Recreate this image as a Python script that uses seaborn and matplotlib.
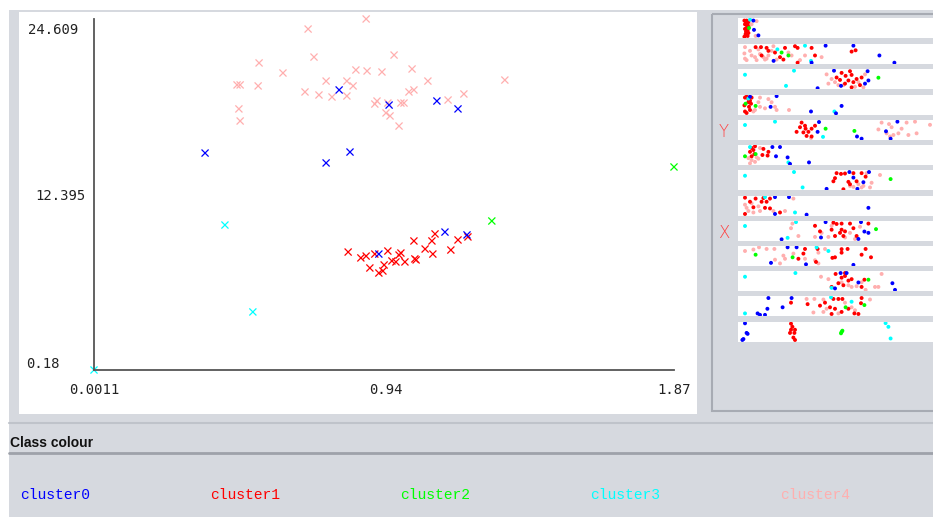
import matplotlib
matplotlib.use('Agg')
import matplotlib.pyplot as plt
from matplotlib.patches import Rectangle
import numpy as np
import pandas as pd
import seaborn as sns

# ---- main scatter data (X vs Y, coloured by cluster) ----
c0_x = [0.791, 0.952, 1.106, 1.174, 0.359, 0.826, 0.749, 0.919, 1.132, 1.203]
c0_y = [19.67, 18.62, 18.90, 18.35, 15.28, 15.35, 14.59, 8.25, 9.78, 9.58]

c1_x = [0.820, 0.861, 0.878, 0.890, 0.906, 0.919, 0.932, 0.936, 0.948, 0.961, 0.974, 0.984,
        0.990, 1.003, 1.032, 1.035, 1.039, 1.068, 1.090, 1.093, 1.100, 1.151, 1.174, 1.206]
c1_y = [8.39, 7.98, 8.11, 7.28, 8.25, 6.93, 7.07, 7.49, 8.46, 7.77, 7.70, 8.18,
        8.32, 7.70, 9.16, 7.91, 7.84, 8.60, 9.16, 8.25, 9.65, 8.53, 9.23, 9.44]

c2_x = [1.87, 1.283]
c2_y = [14.31, 10.55]

c3_x = [0.423, 0.513, 0.0011]
c3_y = [10.27, 4.22, 0.18]

c4_x = [0.691, 0.878, 0.710, 0.533, 0.610, 0.749, 0.816, 0.462, 0.472, 0.530, 0.681, 0.726,
        0.768, 0.816, 0.468, 0.472, 0.968, 0.845, 0.881, 0.929, 1.026, 0.836, 1.077, 1.325,
        1.016, 1.032, 1.142, 1.193, 0.906, 0.913, 0.948, 0.990, 1.000, 0.942, 0.955, 0.984]
c4_y = [23.91, 24.61, 21.96, 21.55, 20.85, 20.29, 20.29, 20.02, 20.02, 19.95, 19.53, 19.32,
        19.18, 19.25, 18.35, 17.51, 22.10, 21.06, 20.99, 20.92, 21.13, 19.95, 20.29, 20.36,
        19.53, 19.67, 18.97, 19.39, 18.69, 18.90, 18.76, 18.76, 18.76, 18.07, 17.86, 17.16]

x_ticks = [0.0011, 0.94, 1.87]
x_tick_labels = ['0.0011', '0.94', '1.87']
y_ticks = [0.18, 12.395, 24.609]
y_tick_labels = ['0.18', '12.395', '24.609']

clusters = ['cluster0', 'cluster1', 'cluster2', 'cluster3', 'cluster4']
colours = ['#0000ff', '#ff0000', '#00ff00', '#00ffff', '#ffafaf']

# ---- attribute strips on the right: (cluster, position, jitter) ----
strip_01 = [(4, 10.8, 13), (4, 10.3, 93), (4, 8.3, 30),
            (1, 4.7, 10), (1, 5.8, 10), (1, 6.7, 17), (1, 5.5, 20), (1, 5, 30), (1, 6.3, 30),
            (1, 6.7, 43), (1, 6, 45), (1, 5, 55), (1, 6.3, 63), (1, 5.5, 70), (1, 6.7, 77),
            (1, 5.3, 83), (1, 6, 87), (1, 6.3, 93), (1, 4.7, 97),
            (2, 7, 50), (3, 7.5, 5), (0, 9.2, 10), (0, 9.5, 60), (0, 11.7, 90)]
strip_02 = [(4, 5, 13), (4, 4.7, 47), (4, 5, 75), (4, 7.5, 33), (4, 8.3, 58), (4, 10, 67),
            (4, 11.7, 25), (4, 12.5, 50), (4, 14.2, 67), (4, 15.8, 75), (4, 18.3, 33), (4, 20.8, 80),
            (4, 26.7, 42), (4, 28.3, 58), (4, 32.5, 83), (4, 35, 58), (4, 43.3, 67), (4, 5.8, 83),
            (4, 10.8, 83), (4, 16.7, 58), (4, 19.2, 8), (4, 15, 80),
            (1, 10.3, 13), (1, 13, 13), (1, 15.8, 17), (1, 16.7, 33), (1, 20, 42), (1, 22.5, 67),
            (1, 25, 17), (1, 24.2, 80), (1, 30, 8), (1, 31.3, 17), (1, 38.3, 17), (1, 40, 58),
            (1, 58.3, 37), (1, 60.3, 30), (1, 13.3, 58), (1, 31.3, 97),
            (2, 23.3, 42), (2, 26.7, 58), (3, 21.2, 25), (3, 35, 5), (3, 38, 87),
            (0, 19.3, 87), (0, 45.3, 5), (0, 59.2, 5), (0, 72.2, 58), (0, 79.7, 97), (0, 38.3, 97)]
strip_03 = [(4, 45.8, 25), (4, 48.3, 50), (4, 50, 67), (4, 51.7, 83), (4, 54.2, 83), (4, 60, 92),
            (4, 61.7, 67), (4, 65, 25), (4, 64.2, 95), (4, 46.7, 75),
            (1, 50.8, 42), (1, 53.3, 17), (1, 55.3, 33), (1, 57.5, 8), (1, 58.3, 28), (1, 56.7, 58),
            (1, 59.2, 67), (1, 55, 75), (1, 60.8, 50), (1, 63.3, 42), (1, 62.5, 83), (1, 52.5, 55),
            (1, 58.3, 95),
            (2, 71.7, 43), (3, 5, 27), (3, 29.5, 5), (3, 25.5, 87),
            (0, 49.5, 5), (0, 53, 87), (0, 66.3, 8), (0, 66.7, 58), (0, 65, 75), (0, 41.3, 100)]
strip_04 = [(4, 12.5, 10), (4, 16.7, 18), (4, 18.3, 35), (4, 20, 60), (4, 20.8, 77), (4, 15, 68),
            (4, 10, 77), (4, 12.5, 60), (4, 27, 77), (4, 11.7, 35), (4, 9.2, 85),
            (1, 5, 10), (1, 5.8, 5), (1, 6.7, 18), (1, 7.5, 27), (1, 8, 43), (1, 7, 60), (1, 7.5, 77),
            (1, 5, 85), (1, 5.8, 93), (1, 8.3, 10), (1, 6.7, 35), (1, 4.7, 52),
            (2, 5.3, 43), (2, 10.3, 55), (3, 6.7, 15), (3, 49.7, 85),
            (0, 7.5, 5), (0, 20.8, 2), (0, 17.8, 60), (0, 38, 85), (0, 53.3, 55), (0, 50.5, 95)]
strip_05 = [(4, 73.3, 10), (4, 77, 18), (4, 78.3, 35), (4, 71.7, 47), (4, 75.8, 68), (4, 79.2, 77),
            (4, 81.7, 68), (4, 83.3, 43), (4, 85.8, 10), (4, 86.7, 77), (4, 90, 5), (4, 90.8, 68),
            (4, 97.5, 22), (4, 77.5, 85), (4, 38, 93),
            (1, 33.3, 10), (1, 35, 27), (1, 35.3, 43), (1, 32.5, 35), (1, 36.7, 60), (1, 30.8, 60),
            (1, 40, 27), (1, 38.3, 43), (1, 34.2, 63), (1, 35.8, 82), (1, 38.3, 85),
            (2, 45.3, 43), (2, 59.7, 55), (3, 5, 23), (3, 20, 5), (3, 44, 87),
            (0, 42, 7), (0, 41.3, 60), (0, 61, 85), (0, 63.3, 97), (0, 81.2, 5), (0, 75.5, 57),
            (0, 77.8, 97)]
strip_06 = [(4, 8.3, 78), (4, 11.7, 70), (4, 10, 87), (4, 6.7, 67), (4, 12.5, 12), (4, 7.5, 95),
            (4, 10.8, 62),
            (1, 8.3, 12), (1, 9.2, 23), (1, 7.5, 33), (1, 9.7, 45), (1, 14.2, 17), (1, 16.7, 33),
            (1, 13.7, 50), (1, 16.3, 53), (1, 8.3, 57), (1, 10, 3),
            (2, 5, 57), (2, 10.3, 45), (3, 7.5, 7), (3, 26.7, 90),
            (0, 18.7, 7), (0, 22.5, 7), (0, 20.5, 57), (0, 26.3, 63), (0, 27.5, 98), (0, 37, 90)]
strip_07 = [(4, 57.5, 82), (4, 61.7, 73), (4, 64.2, 82), (4, 67.5, 90), (4, 68.3, 65), (4, 72.5, 23),
            (4, 63.3, 90), (4, 59.2, 87), (4, 65.8, 13),
            (1, 50.8, 13), (1, 53, 17), (1, 55, 15), (1, 59.2, 13), (1, 50, 40), (1, 49.2, 57),
            (1, 56.7, 60), (1, 57.5, 73), (1, 60.8, 57), (1, 63.3, 13), (1, 65.3, 32), (1, 54.2, 100),
            (2, 77.8, 45), (3, 5, 27), (3, 29.5, 7), (3, 33.8, 90),
            (0, 57.2, 7), (0, 59.2, 37), (0, 67, 7), (0, 64.2, 62), (0, 61.2, 98), (0, 45.8, 98)]
strip_08 = [(4, 5.8, 60), (4, 6.7, 77), (4, 9.2, 85), (4, 11.7, 52), (4, 12.5, 77), (4, 8.3, 35),
            (4, 5, 43), (4, 25, 77), (4, 29.2, 10), (4, 19.2, 77),
            (1, 5, 5), (1, 7.5, 27), (1, 10.3, 10), (1, 14.2, 7), (1, 15.8, 27), (1, 13.3, 27),
            (1, 17.5, 10), (1, 9.2, 57), (1, 15, 60), (1, 17.5, 63), (1, 22.5, 85), (1, 5, 93),
            (3, 15, 2), (3, 30, 85),
            (0, 20, 2), (0, 27, 2), (0, 66.7, 60), (0, 35.8, 97), (0, 20, 93)]
strip_09 = [(4, 28.7, 10), (4, 28, 35), (4, 31.7, 77), (4, 40, 82), (4, 43.3, 60), (4, 46.7, 82),
            (4, 55, 85), (4, 57.5, 60), (4, 60, 93), (4, 62.5, 27), (4, 48.3, 22),
            (1, 49.2, 5), (1, 50.8, 12), (1, 53.3, 10), (1, 57.5, 10), (1, 66.7, 10), (1, 48.3, 43),
            (1, 53.3, 43), (1, 52.5, 60), (1, 55, 52), (1, 54.2, 77), (1, 50, 77), (1, 60.8, 77),
            (1, 40, 22), (1, 42.5, 52), (1, 59.2, 35),
            (2, 70.5, 40), (3, 5, 23), (3, 30.5, 2), (3, 26.3, 87),
            (0, 45.3, 2), (0, 63, 2), (0, 64.7, 53), (0, 66.7, 60), (0, 61.7, 93), (0, 43, 85),
            (0, 23.3, 95)]
strip_10 = [(4, 5, 23), (4, 12, 3), (4, 15.8, 12), (4, 19.7, 12), (4, 20, 70), (4, 24.2, 48),
            (4, 25, 65), (4, 29.2, 37), (4, 35, 65), (4, 40, 73), (4, 41.7, 32), (4, 45, 12),
            (4, 22.5, 90), (4, 41.7, 90), (4, 9.2, 15),
            (1, 35, 12), (1, 34.2, 37), (1, 31.7, 65), (1, 41.3, 12), (1, 53.3, 13), (1, 56.3, 12),
            (1, 53.3, 32), (1, 48.7, 60), (1, 50, 57), (1, 63.3, 43), (1, 65.3, 12), (1, 68, 57),
            (1, 40.5, 82),
            (2, 10.3, 43), (2, 28.8, 57), (3, 40.8, 3), (3, 46.7, 23),
            (0, 26.3, 3), (0, 30.8, 3), (0, 18, 87), (0, 35.5, 95), (0, 59.2, 98)]
strip_11 = [(4, 43, 27), (4, 53.3, 57), (4, 56.7, 73), (4, 58.3, 82), (4, 60.8, 78), (4, 63.3, 57),
            (4, 70, 82), (4, 71.7, 82), (4, 73.3, 12), (4, 46.7, 40), (4, 65.3, 98),
            (1, 50.3, 12), (1, 53.3, 32), (1, 55, 23), (1, 56.7, 48), (1, 58.3, 40), (1, 51.7, 62),
            (1, 48.3, 82), (1, 54.2, 73), (1, 64.7, 43), (1, 63.3, 82), (1, 55, 7),
            (2, 66.7, 43), (3, 5, 27), (3, 30.2, 7), (3, 48.3, 87),
            (0, 52.8, 7), (0, 55.8, 7), (0, 50, 90), (0, 61.7, 58), (0, 78.7, 62), (0, 80, 98)]
strip_12 = [(4, 35.8, 12), (4, 39.7, 12), (4, 44.2, 15), (4, 39.2, 85), (4, 44.2, 82), (4, 45.8, 65),
            (4, 51.7, 90), (4, 55, 32), (4, 58.3, 57), (4, 60, 73), (4, 67.5, 15),
            (1, 28, 32), (1, 36.3, 40), (1, 42.5, 48), (1, 45, 32), (1, 49.2, 12), (1, 51.7, 12),
            (1, 53.7, 12), (1, 47.5, 57), (1, 50, 65), (1, 53.3, 82), (1, 56.7, 65), (1, 59.7, 90),
            (1, 61.7, 93), (1, 63.3, 7), (1, 63, 35), (1, 48.3, 93),
            (2, 55.3, 57), (2, 64.7, 45), (3, 5, 90), (3, 48, 3), (3, 58.3, 27),
            (0, 16.7, 7), (0, 16.2, 65), (0, 23.8, 57), (0, 28.3, 7), (0, 11.3, 90), (0, 12.5, 98),
            (0, 15, 98)]
strip_13 = [(1, 28, 5), (1, 28.7, 22), (1, 28, 38), (1, 30, 38), (1, 27.5, 55), (1, 29.7, 55),
            (1, 29.2, 80), (1, 30, 93),
            (2, 53.3, 50), (2, 53.7, 43), (2, 53, 57),
            (3, 75.3, 2), (3, 76.7, 22), (3, 77.8, 85),
            (0, 5, 3), (0, 5.8, 55), (0, 6.3, 60), (0, 4.2, 88), (0, 3.7, 93)]

strips = [strip_01, strip_02, strip_03, strip_04, strip_05, strip_06, strip_07,
          strip_08, strip_09, strip_10, strip_11, strip_12, strip_13]
strip_tops = [18, 44, 69, 95, 120, 145, 170, 196, 221, 246, 271, 296, 322]

W, H = 933, 517
GREY = '#d6d9df'
EDGE = '#a7abb3'


def box(x0, y0, x1, y1):
    # pixel box (top-left origin) -> figure fraction rect
    return [x0 / W, 1 - y1 / H, (x1 - x0) / W, (y1 - y0) / H]


sns.set_style('white')
plt.rcParams['font.family'] = ['DejaVu Sans']

fig = plt.figure(figsize=(W / 100, H / 100), dpi=100)
fig.patch.set_facecolor('white')

# background panels
bg = fig.add_axes([0, 0, 1, 1])
bg.set_xlim(0, W)
bg.set_ylim(H, 0)
bg.axis('off')
bg.add_patch(Rectangle((9, 10), W - 9, H - 10, color=GREY, lw=0))
bg.add_patch(Rectangle((19, 12), 678, 402, color='white', lw=0))
bg.add_patch(Rectangle((712, 14), 225, 397, fc='none', ec=EDGE, lw=1.5))
bg.plot([9, W], [423, 423], color='#bfc3ca', lw=1.5)
bg.plot([9, W], [453, 453], color='#9ea2aa', lw=2)

# main scatter
palette = dict(zip(clusters, colours))
parts = [(c4_x, c4_y, 'cluster4'), (c1_x, c1_y, 'cluster1'), (c2_x, c2_y, 'cluster2'),
         (c3_x, c3_y, 'cluster3'), (c0_x, c0_y, 'cluster0')]
df = pd.concat([pd.DataFrame({'x': xs, 'y': ys, 'cluster': name}) for xs, ys, name in parts],
               ignore_index=True)

ax = fig.add_axes(box(94, 19, 674, 370))
ax.set_facecolor('none')
sns.scatterplot(data=df, x='x', y='y', hue='cluster', palette=palette, marker='x',
                s=26, linewidth=0.9, legend=False, ax=ax)
for coll in ax.collections:
    coll.set_clip_on(False)
ax.set_xlim(x_ticks[0], x_ticks[-1])
ax.set_ylim(y_ticks[0], y_ticks[-1])
ax.set_xlabel('')
ax.set_ylabel('')
for side in ['top', 'right']:
    ax.spines[side].set_visible(False)
for side in ['left', 'bottom']:
    ax.spines[side].set_color('#555555')
    ax.spines[side].set_linewidth(1.3)
ax.set_xticks(x_ticks)
ax.set_xticklabels(x_tick_labels, family='DejaVu Sans Mono', fontsize=10, color='#222222')
ax.tick_params(axis='x', length=0, pad=9)
ax.set_xticks([x_ticks[1]], minor=True)
ax.tick_params(axis='x', which='minor', length=5, width=1.3, color='#555555', direction='out')
ax.set_yticks([y_ticks[1]])
ax.set_yticklabels([y_tick_labels[1]], family='DejaVu Sans Mono', fontsize=10, color='#222222')
ax.tick_params(axis='y', length=5, width=1.3, color='#555555', pad=1)
bg.text(78, 30, y_tick_labels[2], ha='right', va='center', family='DejaVu Sans Mono',
        fontsize=10, color='#222222')
bg.text(26, 364, y_tick_labels[0], ha='left', va='center', family='DejaVu Sans Mono',
        fontsize=10, color='#222222')

# attribute strips
draw_order = {4: 0, 1: 1, 2: 2, 3: 3, 0: 4}
for top, pts in zip(strip_tops, strips):
    sax = fig.add_axes(box(738, top, 940, top + 20))
    sdf = pd.DataFrame(pts, columns=['c', 'pos', 'jit'])
    sdf['order'] = sdf['c'].map(draw_order)
    sdf = sdf.sort_values('order', kind='stable')
    sdf['cluster'] = [clusters[i] for i in sdf['c']]
    sns.scatterplot(data=sdf, x='pos', y='jit', hue='cluster', palette=palette, marker='o',
                    s=8, linewidth=0, legend=False, ax=sax)
    sax.set_xlim(1.5, 102.5)
    sax.set_ylim(104, -4)
    sax.set_facecolor('white')
    sax.set_xticks([])
    sax.set_yticks([])
    sax.set_xlabel('')
    sax.set_ylabel('')
    for sp in sax.spines.values():
        sp.set_visible(False)

bg.text(724, 132, 'Y', ha='center', va='center', color='#ff4040', fontsize=12,
        fontweight='light')
bg.text(724, 233, 'X', ha='center', va='center', color='#ff4040', fontsize=12,
        fontweight='light')

# class colour legend
bg.text(10, 443, 'Class colour', ha='left', va='center', family='Liberation Sans',
        fontweight='bold', fontsize=10, color='#111111')
for i, (name, col) in enumerate(zip(clusters, colours)):
    bg.text(20 + 190 * i, 495, name, ha='left', va='center', family='Liberation Mono',
            fontsize=10.5, color=col)

fig.savefig('out.png', dpi=100, facecolor=fig.get_facecolor())
